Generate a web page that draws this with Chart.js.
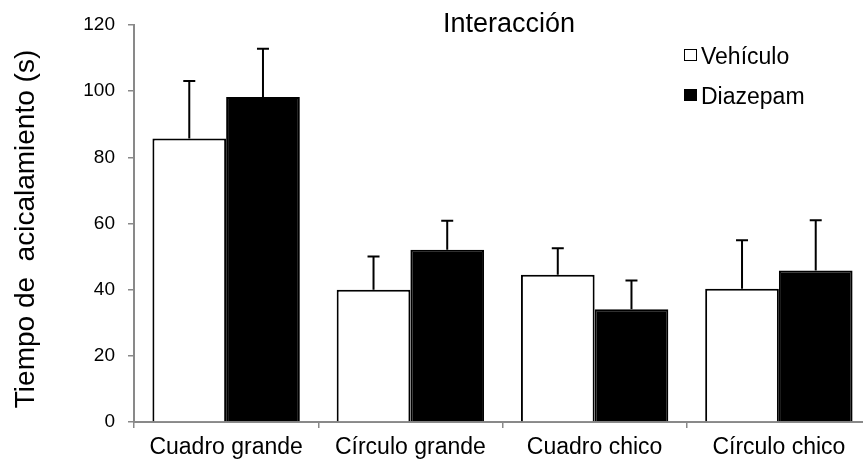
<!DOCTYPE html>
<html lang="es">
<head>
<meta charset="utf-8">
<title>Interacción</title>
<script src="https://cdn.jsdelivr.net/npm/chart.js@4.4.1/dist/chart.umd.min.js"></script>
<style>
  html, body { margin: 0; padding: 0; background: #fff; overflow: hidden; }
  #wrap { width: 863px; height: 463px; overflow: hidden; }
</style>
</head>
<body>
<div id="wrap"><canvas id="chartOfGrooming" width="880" height="463"></canvas></div>
<script>
// datos
const categories = ["Cuadro grande", "Círculo grande", "Cuadro chico", "Círculo chico"];
const vehiculo = [85.7, 40.0, 44.5, 40.3];
const vehiculoErr = [17.4, 10.0, 8.0, 14.6];
const diazepam = [98.2, 52.1, 34.1, 45.8];
const diazepamErr = [14.6, 8.7, 8.7, 15.2];
const yMin = 0;
const yMax = 120;
const yStep = 20;
const chartTitle = "Interacción";
const yTitle = "Tiempo de  acicalamiento (s)";

const FONT = "'Liberation Sans', Arial, sans-serif";
const AXIS_GRAY = "#898989";

// barras de error (solo hacia arriba)
const errorBars = {
  id: "errorBars",
  afterDatasetsDraw(chart) {
    const ctx = chart.ctx;
    const yScale = chart.scales.y;
    ctx.save();
    ctx.strokeStyle = "#000";
    ctx.lineWidth = 2;
    chart.data.datasets.forEach((ds, i) => {
      const meta = chart.getDatasetMeta(i);
      meta.data.forEach((bar, j) => {
        const top = yScale.getPixelForValue(ds.data[j] + ds.errors[j]);
        ctx.beginPath();
        ctx.moveTo(bar.x, bar.y);
        ctx.lineTo(bar.x, top);
        ctx.moveTo(bar.x - 6, top);
        ctx.lineTo(bar.x + 6, top);
        ctx.stroke();
      });
    });
    ctx.restore();
  },
};

// título, título del eje y leyenda (sin ocupar espacio del layout)
const titleAndLegend = {
  id: "titleAndLegend",
  afterDraw(chart) {
    const ctx = chart.ctx;
    ctx.save();
    ctx.fillStyle = "#000";
    ctx.font = "27px " + FONT;
    ctx.textAlign = "center";
    ctx.textBaseline = "alphabetic";
    ctx.fillText(chartTitle, 509, 32);

    // título del eje Y, girado
    ctx.save();
    ctx.translate(26, 229);
    ctx.rotate(-Math.PI / 2);
    ctx.font = "28px " + FONT;
    ctx.textBaseline = "middle";
    ctx.fillText(yTitle, 0, 0);
    ctx.restore();

    ctx.font = "23px " + FONT;
    ctx.textAlign = "left";
    ctx.textBaseline = "alphabetic";
    chart.data.datasets.forEach((ds, i) => {
      const rowY = 55 + i * 40;
      ctx.fillStyle = ds.backgroundColor;
      ctx.fillRect(684.5, rowY - 5.5, 12, 11);
      ctx.strokeStyle = "#000";
      ctx.lineWidth = 1;
      ctx.strokeRect(684.5, rowY - 5.5, 12, 11);
      ctx.fillStyle = "#000";
      ctx.fillText(ds.label, 701, rowY + 8.5);
    });
    ctx.restore();
  },
};

function setupChart() {
  const ctx = document.getElementById("chartOfGrooming").getContext("2d");
  new Chart(ctx, {
    type: "bar",
    data: {
      labels: categories,
      datasets: [
        {
          label: "Vehículo",
          data: vehiculo,
          errors: vehiculoErr,
          backgroundColor: "#ffffff",
          borderColor: "#000000",
          borderWidth: 2,
        },
        {
          label: "Diazepam",
          data: diazepam,
          errors: diazepamErr,
          backgroundColor: "#000000",
          borderColor: "#000000",
          borderWidth: 2,
        },
      ],
    },
    options: {
      responsive: false,
      animation: false,
      devicePixelRatio: 1,
      categoryPercentage: 0.8,
      barPercentage: 1.0,
      layout: { padding: { top: 25, right: 9, left: 0, bottom: 0 } },
      plugins: {
        legend: { display: false },
        title: { display: false },
        tooltip: { enabled: false },
      },
      scales: {
        x: {
          grid: {
            drawOnChartArea: false,
            drawTicks: true,
            tickLength: 6,
            color: AXIS_GRAY,
            lineWidth: 1.5,
          },
          border: { color: AXIS_GRAY, width: 2 },
          ticks: {
            color: "#000",
            font: { family: FONT, size: 23 },
            padding: 6,
            maxRotation: 0,
            autoSkip: false,
          },
          afterFit(scale) {
            scale.height = 41;
          },
        },
        y: {
          min: yMin,
          max: yMax,
          grid: {
            drawOnChartArea: false,
            drawTicks: true,
            tickLength: 6,
            color: AXIS_GRAY,
            lineWidth: 1.5,
          },
          border: { color: AXIS_GRAY, width: 2 },
          ticks: {
            stepSize: yStep,
            color: "#000",
            font: { family: FONT, size: 19 },
            padding: 13,
          },
          afterFit(scale) {
            scale.width = 134;
          },
        },
      },
    },
    plugins: [errorBars, titleAndLegend],
  });
}

document.addEventListener("DOMContentLoaded", setupChart);
</script>
</body>
</html>
